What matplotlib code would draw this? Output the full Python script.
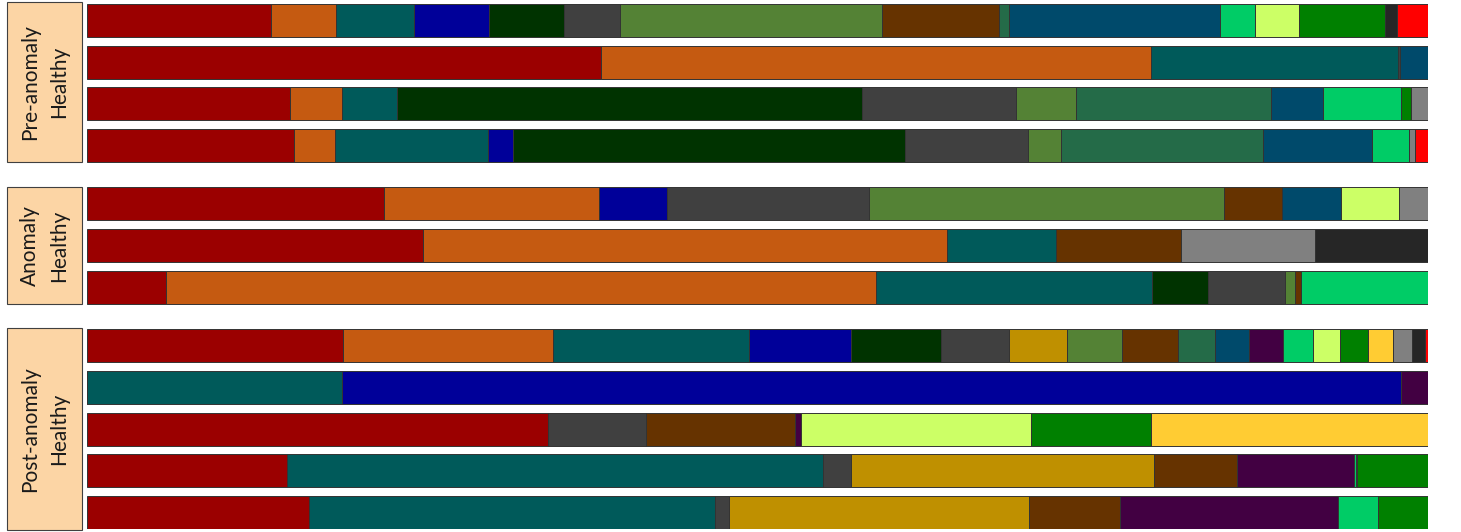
import numpy as np
import matplotlib
matplotlib.use("Agg")
import matplotlib.pyplot as plt
from matplotlib.patches import Rectangle

# category colours, in stacking order
colors = ['#9B0000', '#C55A11', '#005A5A', '#000099', '#003300', '#404040',
          '#BF9000', '#548235', '#663300', '#246B48', '#004A6B', '#420042',
          '#00CC66', '#CCFF66', '#008000', '#FFCC33', '#808080', '#262626',
          '#FF0000']

# shares (%) per row, one value per colour above
pre_1 = [13.7, 4.8, 5.8, 5.6, 5.6, 4.2, 0, 19.5, 8.7, 0.7, 15.7, 0, 2.6, 3.3, 6.4, 0, 0, 0.9, 2.3]
pre_2 = [38.3, 41.0, 18.4, 0, 0, 0.15, 0, 0, 0, 0, 2.1, 0, 0, 0, 0, 0, 0, 0, 0]
pre_3 = [15.1, 3.9, 4.1, 0, 34.6, 11.5, 0, 4.5, 0, 14.5, 3.9, 0, 5.8, 0, 0.7, 0, 1.3, 0, 0]
pre_4 = [15.4, 3.1, 11.4, 1.9, 29.2, 9.2, 0, 2.4, 0, 15.1, 8.1, 0, 2.8, 0, 0, 0, 0.4, 0, 1.0]

anom_1 = [22.2, 16.0, 0, 5.1, 0, 15.1, 0, 26.5, 4.3, 0, 4.4, 0, 0, 4.3, 0, 0, 2.2, 0, 0]
anom_2 = [25.0, 39.1, 8.1, 0, 0, 0, 0, 0, 9.3, 0, 0, 0, 0, 0, 0, 0, 10.0, 8.4, 0]
anom_3 = [5.9, 52.9, 20.6, 0, 4.2, 5.7, 0, 0.8, 0.4, 0, 0, 0, 9.5, 0, 0, 0, 0, 0, 0]

post_1 = [19.1, 15.7, 14.7, 7.6, 6.7, 5.1, 4.3, 4.1, 4.2, 2.8, 2.5, 2.6, 2.2, 2.0, 2.1, 1.9, 1.4, 1.0, 0.2]
post_2 = [0, 0, 19.0, 79.0, 0, 0, 0, 0, 0, 0, 0, 2.0, 0, 0, 0, 0, 0, 0, 0]
post_3 = [34.4, 0, 0, 0, 0, 7.3, 0, 0, 11.1, 0, 0, 0.45, 0, 17.2, 8.9, 20.7, 0, 0, 0]
post_4 = [14.9, 0, 40.0, 0, 0, 2.1, 22.6, 0, 6.2, 0, 0, 8.7, 0.15, 0.1, 5.3, 0, 0, 0, 0]
post_5 = [16.6, 0, 30.3, 0, 0, 1.0, 22.4, 0, 6.8, 0, 0, 16.3, 3.0, 0, 3.7, 0, 0, 0, 0]

rows = [pre_1, pre_2, pre_3, pre_4, anom_1, anom_2, anom_3,
        post_1, post_2, post_3, post_4, post_5]
group_names = ['Pre-anomaly\nHealthy', 'Anomaly\nHealthy', 'Post-anomaly\nHealthy']
group_sizes = [4, 3, 5]

# y positions: one unit per bar, extra gap between groups
ypos = []
y = 0.0
for g, n in enumerate(group_sizes):
    for i in range(n):
        ypos.append(y)
        y += 1
    y += 0.4
ypos = np.array(ypos)
bar_h = 0.79

W, H = 1461, 532
fig = plt.figure(figsize=(W / 100, H / 100), dpi=100)
ax = fig.add_axes([87 / W, 3 / H, 1341 / W, 525 / H])

data = np.array(rows, dtype=float)
data = data / data.sum(axis=1, keepdims=True) * 100
left = np.zeros(len(rows))
for j, c in enumerate(colors):
    w = data[:, j]
    ax.barh(ypos, w, left=left, height=bar_h, color=c,
            edgecolor='#333333', linewidth=0.7)
    left += w

ax.set_xlim(0, 100)
ax.set_ylim(ypos[-1] + bar_h / 2, ypos[0] - bar_h / 2)
ax.axis('off')

# peach label boxes on the left
lab = fig.add_axes([0, 0, 1, 1])
lab.set_xlim(0, W)
lab.set_ylim(H, 0)
lab.axis('off')
boxes = [(2, 162), (187, 304), (328, 530)]
for (y0, y1), name in zip(boxes, group_names):
    lab.add_patch(Rectangle((7, y0), 75, y1 - y0, facecolor='#FCD5A5',
                            edgecolor='#404040', linewidth=0.8))
    lab.text(44.5, (y0 + y1) / 2, name, rotation=90, ha='center', va='center',
             multialignment='center', fontsize=15, family='Lato',
             color='#1a1a1a', linespacing=1.55)

fig.savefig('out.png', dpi=100)
